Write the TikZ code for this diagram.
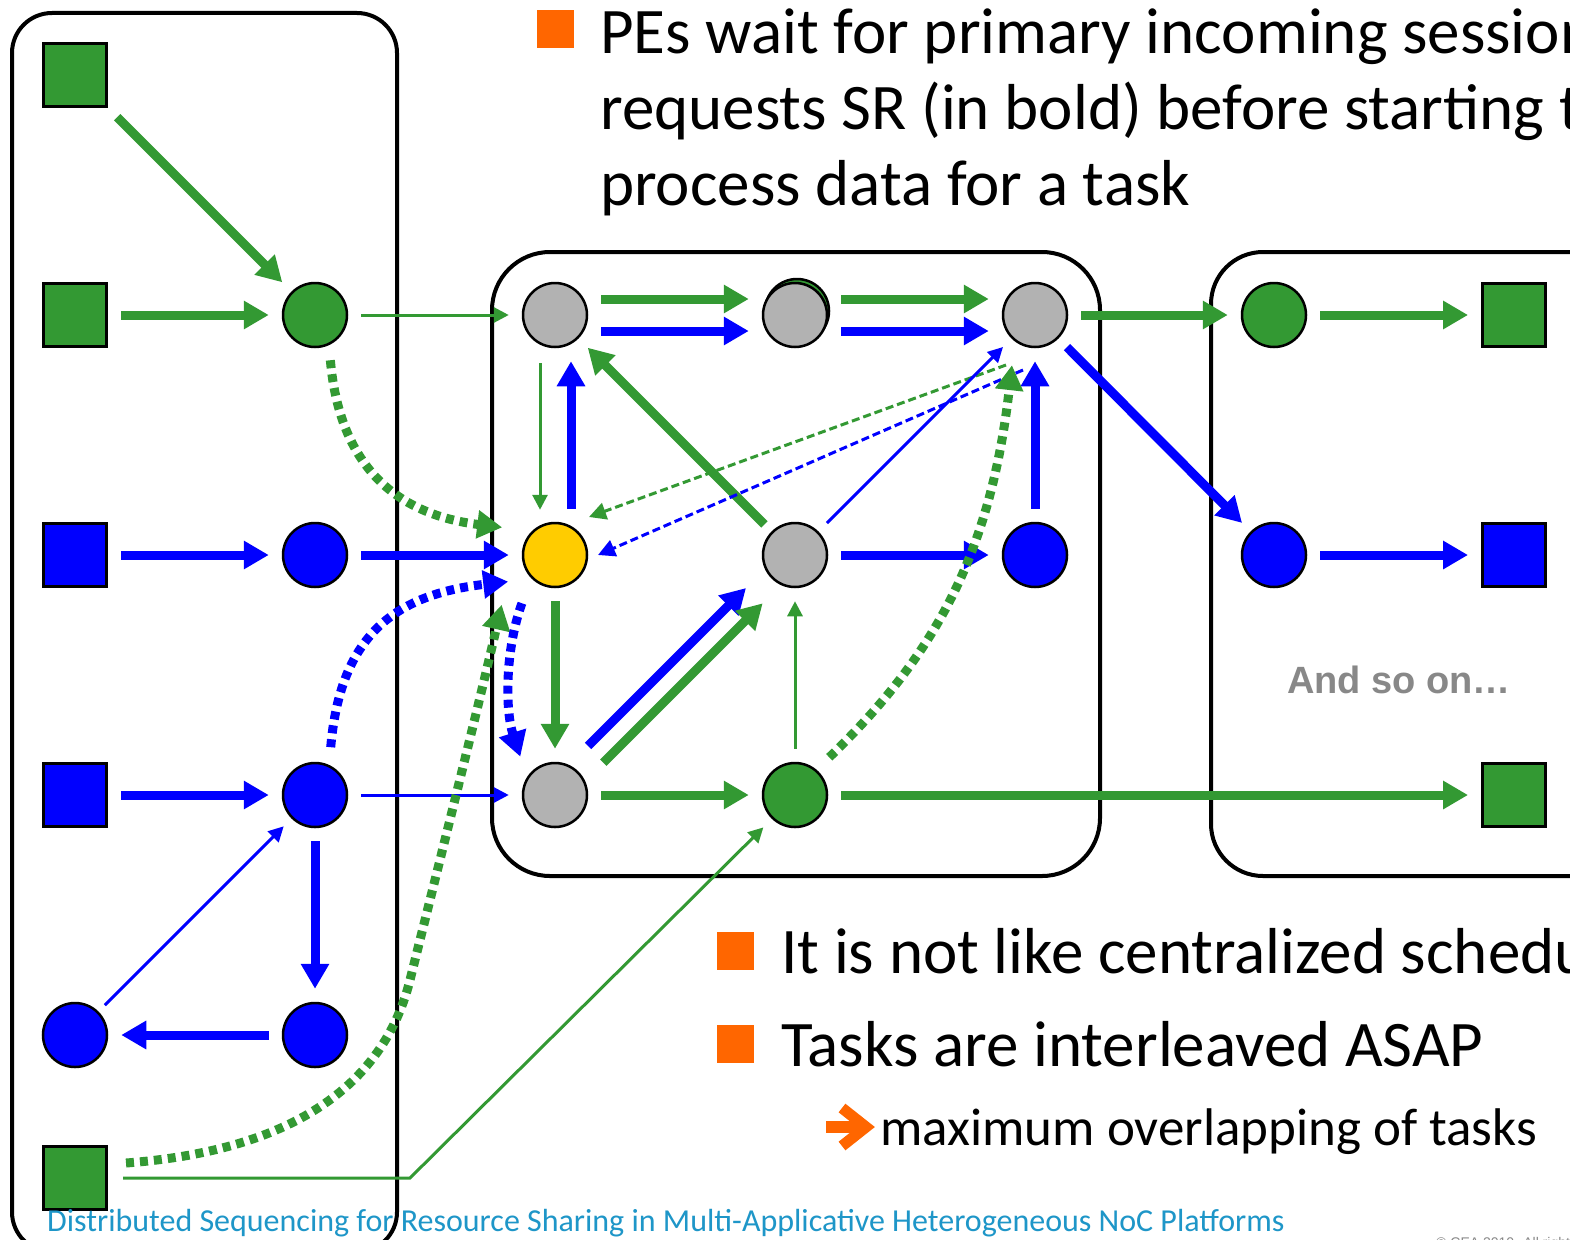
\documentclass[tikz,border=0pt]{standalone}
\usepackage{fontspec}
\setmainfont{Carlito}
\newfontfamily\arialfont{Liberation Sans}
\usetikzlibrary{arrows.meta}
\definecolor{pgreen}{HTML}{339933}
\definecolor{pblue}{HTML}{0000FF}
\definecolor{pgray}{HTML}{B2B2B2}
\definecolor{pyellow}{HTML}{FFCC00}
\definecolor{porange}{HTML}{FF6600}
\definecolor{pteal}{HTML}{1E96C8}
\definecolor{pmuted}{HTML}{888888}

\begin{document}
\begin{tikzpicture}[x=1pt,y=-1pt,
    pe/.style={circle,draw=black,line width=2.5pt,minimum size=64pt,inner sep=0pt},
    io/.style={rectangle,draw=black,line width=3pt,minimum size=63pt,inner sep=0pt},
    bigflow/.style={line width=9pt,-{Triangle[length=25pt,width=27pt]},shorten <=13pt,shorten >=13pt},
    thinflow/.style={line width=3pt,-{Triangle[length=15pt,width=15pt]},shorten <=13pt,shorten >=13pt},
    dotflow/.style={line width=9pt,dash pattern=on 8pt off 6pt,-{Triangle[length=25pt,width=27pt]}},
    dashflow/.style={line width=3pt,dash pattern=on 8pt off 4pt,-{Triangle[length=17pt,width=17pt]}},
    frame/.style={draw=black,line width=4pt},
    bullet/.style={fill=porange,minimum width=37pt,minimum height=38pt,inner sep=0pt},
    bodytext/.style={anchor=base west,inner sep=0pt,font=\fontsize{65}{75}\selectfont}]
  \useasboundingbox (0,0) rectangle (1570,1239);
  \clip (0,0) rectangle (1570,1239);
  \fill[white] (0,0) rectangle (1570,1239);
  % application frames
  \draw[frame,rounded corners=40pt] (12,13) rectangle (397,1252);
  \draw[frame,rounded corners=58pt] (492,252) rectangle (1100,876);
  \draw[frame,rounded corners=52pt] (1211,252) rectangle (1650,876);
  % left application
  \foreach \n/\y/\col in {s1/75/pgreen,s2/315/pgreen,s3/555/pblue,s4/795/pblue,s6/1178/pgreen}
    \node[io,fill=\col] (\n) at (75,\y) {};
  \node[pe,fill=pblue] (c5) at (75,1035) {};
  \node[pe,fill=pgreen] (a1) at (315,315) {};
  \foreach \n/\y in {a2/555,a3/795,a4/1035}
    \node[pe,fill=pblue] (\n) at (315,\y) {};
  % shared PEs
  \node[pe,fill=pgreen] (m12b) at (797,311) {};
  \foreach \n/\x/\y/\col in {m11/555/315/pgray,m12/795/315/pgray,m13/1035/315/pgray,
      m21/555/555/pyellow,m22/795/555/pgray,m23/1035/555/pblue,
      m31/555/795/pgray,m32/795/795/pgreen}
    \node[pe,fill=\col] (\n) at (\x,\y) {};
  % next application
  \node[pe,fill=pgreen] (r1) at (1274,315) {};
  \node[pe,fill=pblue] (r2) at (1274,555) {};
  \foreach \n/\y/\col in {q1/315/pgreen,q2/555/pblue,q3/795/pgreen}
    \node[io,fill=\col] (\n) at (1514,\y) {};
  \node[anchor=base west,inner sep=0pt,font=\arialfont\bfseries\fontsize{38}{44}\selectfont,text=pmuted] (more) at (1287,693) {And so on…};

  % flows, left
  \draw[bigflow,pgreen] (s1) -- (a1);
  \draw[bigflow,pgreen] (s2) -- (a1);
  \draw[thinflow,pgreen] (a1) -- (m11);
  \draw[bigflow,pblue] (s3) -- (a2);
  \draw[bigflow,pblue] (a2) -- (m21);
  \draw[bigflow,pblue] (s4) -- (a3);
  \draw[thinflow,pblue] (a3) -- (m31);
  \draw[bigflow,pblue] (a3) -- (a4);
  \draw[bigflow,pblue] (a4) -- (c5);
  \draw[thinflow,pblue,shorten <=9pt,shorten >=11pt] (c5) -- (a3);
  \draw[thinflow,pgreen,shorten <=15pt,shorten >=12pt] (s6.east) -- (410,1178) -- (m32.226);
  \draw[dotflow,pgreen] ([shift={(4,14)}]a1.290) .. controls (340,470) and (400,515) .. ([shift={(-24,-11)}]m21.150);
  \draw[dotflow,pblue] ([shift={(6,-16)}]a3.73) .. controls (340,640) and (390,595) .. ([shift={(-18,10)}]m21.210);
  \draw[dotflow,pgreen] ([shift={(18,-15)}]s6.east) .. controls (300,1150) and (385,1080) .. (410,980)
    .. controls (440,860) and (480,700) .. ([shift={(-29,27)}]m21.223);
  % flows, shared PEs
  \draw[bigflow,pgreen] ([yshift=16pt]m11.east) -- ([yshift=16pt]m12.west);
  \draw[bigflow,pblue] ([yshift=-16pt]m11.east) -- ([yshift=-16pt]m12.west);
  \draw[bigflow,pgreen] ([yshift=16pt]m12.east) -- ([yshift=16pt]m13.west);
  \draw[bigflow,pblue] ([yshift=-16pt]m12.east) -- ([yshift=-16pt]m13.west);
  \draw[thinflow,pgreen,shorten <=15pt,shorten >=12pt] ([xshift=-15pt]m11.south) -- ([xshift=-15pt]m21.north);
  \draw[bigflow,pblue] ([xshift=16pt]m21.north) -- ([xshift=16pt]m11.south);
  \draw[bigflow,pgreen,shorten <=10pt] (m22) -- (m11);
  \draw[dashflow,pgreen] ([shift={(-29,50)}]m13.center) -- ([shift={(34,-38)}]m21.center);
  \draw[dashflow,pblue] ([shift={(-12,55)}]m13.center) -- ([shift={(43,0)}]m21.center);
  \draw[thinflow,pblue,shorten <=12pt,shorten >=12pt] (m22) -- (m13);
  \draw[bigflow,pblue] (m22) -- (m23);
  \draw[bigflow,pblue] (m23) -- (m13);
  \draw[bigflow,pgreen] (m21) -- (m31);
  \draw[dotflow,pblue] ([shift={(-14,21)}]m21.235) .. controls (505,650) and (505,710) .. ([shift={(-12,-14)}]m31.133);
  \draw[bigflow,pblue,shorten <=58pt,shorten >=58pt] ([shift={(-8,-8)}]m31.center) -- ([shift={(-8,-8)}]m22.center);
  \draw[bigflow,pgreen,shorten <=57pt,shorten >=57pt] ([shift={(8,8)}]m31.center) -- ([shift={(8,8)}]m22.center);
  \draw[thinflow,pgreen] (m32) -- (m22);
  \draw[dotflow,pgreen] ([shift={(12,-13)}]m32.48) .. controls (930,660) and (990,560) .. ([shift={(-9,20)}]m13.245);
  \draw[bigflow,pgreen] (m31) -- (m32);
  \draw[bigflow,pgreen] (m32) -- (q3);
  \draw[bigflow,pblue,shorten <=12pt,shorten >=12pt] (m13) -- (r2);
  \draw[bigflow,pgreen] (m13) -- (r1);
  % flows, next application
  \draw[bigflow,pgreen] (r1) -- (q1);
  \draw[bigflow,pblue] (r2) -- (q2);

  % slide text
  \node[bullet] (b1) at (555,29) {};
  \foreach \y/\txt in {53/{PEs wait for primary incoming sessions},129/{requests SR (in bold) before starting to},205/{process data for a task}}
    \node[bodytext] (t\y) at (600,\y) {\txt};
  \node[bullet] (b2) at (735,951) {};
  \node[bodytext] (t2) at (781,973) {It is not like centralized scheduling};
  \node[bullet] (b3) at (735,1044) {};
  \node[bodytext] (t3) at (781,1066) {Tasks are interleaved ASAP};
  \fill[porange] (826,1121) rectangle (858,1133);
  \draw[porange,line width=11pt,line join=miter] (842,1108) -- (866,1127) -- (842,1146);
  \node[bodytext,font=\fontsize{53}{63}\selectfont] (t4) at (880,1145) {maximum overlapping of tasks};
  \node[anchor=base west,inner sep=0pt,font=\fontsize{32}{38}\selectfont,text=pteal] (foot) at (47,1231)
    {Distributed Sequencing for Resource Sharing in Multi-Applicative Heterogeneous NoC Platforms};
  \node[anchor=base west,inner sep=0pt,font=\arialfont\fontsize{14}{16}\selectfont,text=pmuted] (copy) at (1436,1247)
    {\textcopyright\ CEA 2010. All rights reserved};
\end{tikzpicture}
\end{document}
